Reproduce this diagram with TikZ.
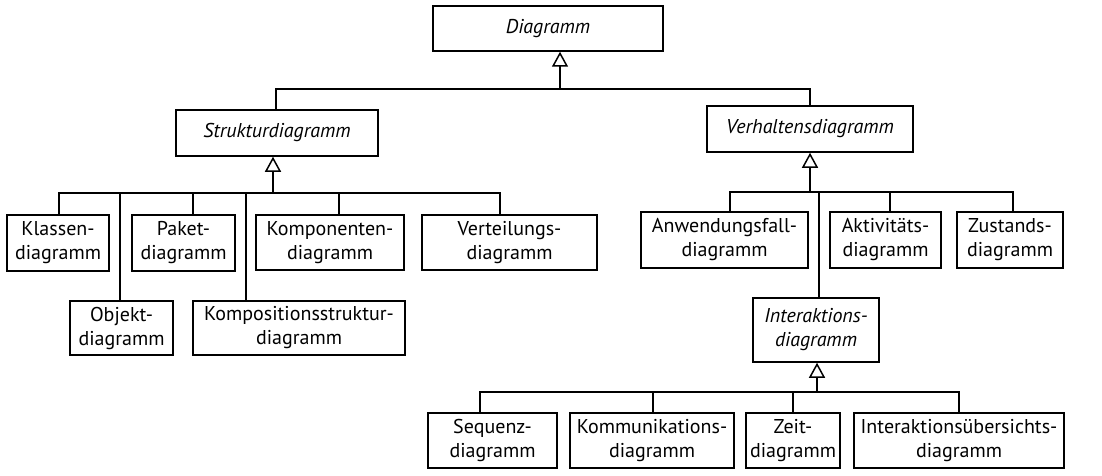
\documentclass[tikz,border=0pt]{standalone}
\usepackage{fontspec}
\setmainfont{PT Sans}
\usetikzlibrary{arrows.meta}
\begin{document}
\begin{tikzpicture}[x=1pt,y=-1pt,
  box/.style={draw,line width=1.5pt,inner sep=0pt,align=center,font=\fontsize{20}{24}\selectfont},
  abox/.style={box,font=\fontsize{20}{24}\selectfont\itshape},
  gen/.style={-{Triangle[open,length=15pt,width=16pt,line width=1.5pt]}},
  every path/.style={line width=1.5pt}]
\useasboundingbox (0,0) rectangle (1102,476);
\newcommand\bx[7]{\node[#1,minimum width=#4-#3,minimum height=#6-#5] (#2) at ({(#3+#4)/2},{(#5+#6)/2}) {#7};}
% abstract
\bx{abox}{D}{433}{663}{6}{51}{Diagramm}
\bx{abox}{S}{176}{378}{110}{156}{Strukturdiagramm}
\bx{abox}{V}{707}{913}{106}{152}{Verhaltensdiagramm}
\bx{abox}{I}{753}{879}{298}{362}{Interaktions-\\diagramm}
% structure
\bx{box}{K}{7}{109}{215}{271}{Klassen-\\diagramm}
\bx{box}{P}{132}{235}{215}{271}{Paket-\\diagramm}
\bx{box}{Ko}{256}{404}{215}{270}{Komponenten-\\diagramm}
\bx{box}{Ve}{422}{597}{215}{270}{Verteilungs-\\diagramm}
\bx{box}{O}{70}{173}{301}{355}{Objekt-\\diagramm}
\bx{box}{KS}{193}{405}{301}{355}{Kompositionsstruktur-\\diagramm}
% behaviour
\bx{box}{A}{641}{808}{212}{268}{Anwendungsfall-\\diagramm}
\bx{box}{Ak}{830}{941}{212}{268}{Aktivitäts-\\diagramm}
\bx{box}{Z}{957}{1063}{212}{268}{Zustands-\\diagramm}
% interaction
\bx{box}{Se}{428}{557}{413}{468}{Sequenz-\\diagramm}
\bx{box}{Km}{570}{734}{413}{468}{Kommunikations-\\diagramm}
\bx{box}{Zt}{746}{840}{413}{468}{Zeit-\\diagramm}
\bx{box}{U}{854}{1064}{413}{468}{Interaktionsübersichts-\\diagramm}
% junctions
\coordinate (jD) at (560,89);
\coordinate (jS) at (273,193);
\coordinate (jV) at (810,192);
\coordinate (jI) at (817,392);
\draw[gen] (jD) -- (jD |- D.south);
\draw[gen] (jS) -- (jS |- S.south);
\draw[gen] (jV) -- (jV |- V.south);
\draw[gen] (jI) -- (jI |- I.south);
% top level
\draw ([xshift=-1pt]S.north) |- (jD);
\draw (V.north) |- (jD);
% structure children
\draw ([xshift=1pt]K.north) |- (jS);
\draw ([xshift=9.5pt]P.north) |- (jS);
\draw ([xshift=9pt]Ko.north) |- (jS);
\draw ([xshift=-9.5pt]Ve.north) |- (jS);
\draw ([xshift=-1.5pt]O.north) |- (jS);
\draw ([xshift=-53pt]KS.north) |- (jS);
% behaviour children
\draw ([xshift=5.5pt]A.north) |- (jV);
\draw ([xshift=4.5pt]Ak.north) |- (jV);
\draw ([xshift=3pt]Z.north) |- (jV);
\draw ([xshift=3pt]I.north) |- (jV);
% interaction children
\draw ([xshift=-12.5pt]Se.north) |- (jI);
\draw ([xshift=1pt]Km.north) |- (jI);
\draw (Zt.north) |- (jI);
\draw (U.north) |- (jI);
\end{tikzpicture}
\end{document}
